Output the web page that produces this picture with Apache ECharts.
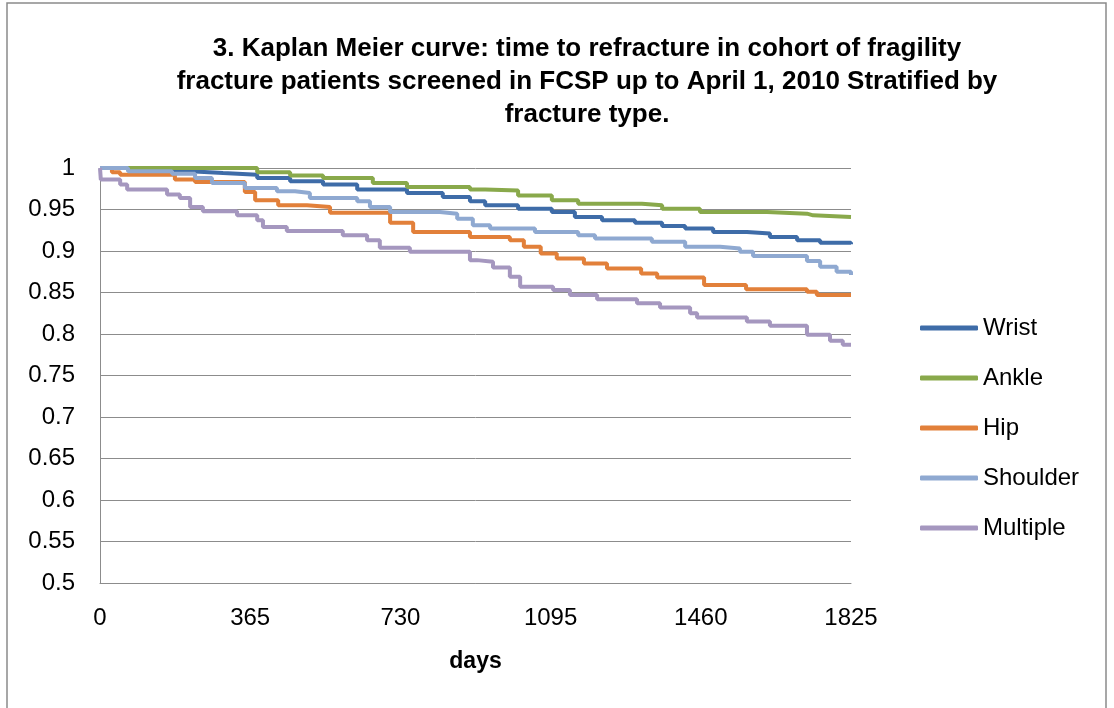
<!DOCTYPE html>
<html>
<head>
<meta charset="utf-8">
<script src="https://cdn.jsdelivr.net/npm/echarts@6/dist/echarts.min.js"></script>
<style>
  html, body { margin: 0; padding: 0; background: #fff; }
  #container { width: 1114px; height: 708px; }
</style>
</head>
<body>
<div id="container"></div>
<script>
// Kaplan Meier curves, [day, survival]
var seriesNames = ['Wrist', 'Ankle', 'Hip', 'Shoulder', 'Multiple'];
var wrist = [[0,1],[177,0.996],[219,0.994],[299,0.992],[382,0.988],[462,0.984],[542,0.98],[625,0.974],[746,0.97],[833,0.965],[899,0.96],[936,0.955],[1016,0.951],[1098,0.947],[1154,0.941],[1220,0.937],[1300,0.934],[1366,0.93],[1422,0.927],[1490,0.923],[1572,0.921],[1628,0.917],[1694,0.913],[1750,0.91],[1825,0.908]];
var ankle = [[0,1],[340,1],[382,0.995],[462,0.991],[542,0.988],[663,0.982],[746,0.977],[899,0.974],[936,0.973],[1016,0.967],[1098,0.961],[1162,0.957],[1317,0.955],[1366,0.951],[1458,0.947],[1621,0.945],[1718,0.943],[1733,0.941],[1825,0.941]];
var hip = [[0,1],[29,0.995],[49,0.992],[182,0.986],[231,0.983],[352,0.971],[377,0.961],[433,0.955],[503,0.953],[559,0.946],[705,0.934],[761,0.923],[899,0.917],[996,0.913],[1030,0.905],[1071,0.897],[1110,0.891],[1176,0.885],[1232,0.879],[1315,0.873],[1354,0.868],[1468,0.859],[1570,0.854],[1718,0.851],[1742,0.847],[1825,0.847]];
var shoulder = [[0,1],[68,0.996],[175,0.993],[231,0.988],[272,0.982],[352,0.976],[430,0.972],[474,0.97],[510,0.964],[625,0.96],[656,0.953],[705,0.947],[826,0.945],[868,0.939],[906,0.931],[948,0.927],[1057,0.923],[1162,0.919],[1203,0.915],[1341,0.911],[1422,0.905],[1507,0.903],[1555,0.899],[1587,0.894],[1718,0.888],[1750,0.881],[1790,0.875],[1825,0.871]];
var multiple = [[0,1],[2,0.986],[49,0.98],[66,0.974],[163,0.968],[194,0.964],[219,0.953],[250,0.948],[333,0.943],[382,0.937],[396,0.929],[454,0.924],[590,0.919],[649,0.913],[680,0.904],[753,0.899],[899,0.889],[916,0.887],[955,0.88],[996,0.869],[1021,0.857],[1101,0.853],[1142,0.847],[1208,0.842],[1305,0.837],[1361,0.832],[1434,0.825],[1451,0.82],[1572,0.815],[1628,0.81],[1718,0.799],[1774,0.792],[1805,0.787],[1825,0.787]];
var xTicks = [0, 365, 730, 1095, 1460, 1825];

var colors = ['#3e6ca8', '#89a94b', '#e2803a', '#8fa9d1', '#a597bf'];
var allData = [wrist, ankle, hip, shoulder, multiple];

var myChart = echarts.init(document.getElementById('container'));

var series = [];
for (var i = 0; i < seriesNames.length; i++) {
  series.push({
    name: seriesNames[i],
    type: 'line',
    step: 'end',
    symbol: 'none',
    data: allData[i],
    lineStyle: { width: 4, color: colors[i] },
    itemStyle: { color: colors[i] }
  });
}

var option = {
  animation: false,
  color: colors,
  title: {
    text: '3. Kaplan Meier curve: time to refracture in cohort of fragility\nfracture patients screened in FCSP up to April 1, 2010 Stratified by\nfracture type.',
    left: 582,
    top: 27,
    textAlign: 'center',
    textStyle: {
      fontFamily: 'Liberation Sans',
      fontWeight: 'bold',
      fontSize: 26,
      lineHeight: 33,
      color: '#000'
    }
  },
  legend: {
    orient: 'vertical',
    left: 915,
    top: 311,
    icon: 'roundRect',
    itemWidth: 58,
    itemHeight: 5,
    itemGap: 26,
    data: seriesNames,
    textStyle: { fontFamily: 'Liberation Sans', fontSize: 24, lineHeight: 24, color: '#000' }
  },
  grid: { left: 100, right: 263, top: 168, bottom: 125 },
  xAxis: {
    type: 'value',
    min: 0,
    max: 1825,
    interval: 365,
    name: 'days',
    nameLocation: 'middle',
    nameGap: 67,
    nameTextStyle: { fontFamily: 'Liberation Sans', fontWeight: 'bold', fontSize: 23, color: '#000' },
    axisLine: { show: true, lineStyle: { color: '#8c8c8c', width: 1 } },
    axisTick: { show: false },
    splitLine: { show: false },
    axisLabel: {
      fontFamily: 'Liberation Sans', fontSize: 24, color: '#000', margin: 23,
      formatter: function (v) { return xTicks.indexOf(v) >= 0 ? String(v) : ''; }
    }
  },
  yAxis: {
    type: 'value',
    min: 0.5,
    max: 1,
    interval: 0.05,
    axisLine: { show: true, lineStyle: { color: '#8c8c8c', width: 1 } },
    axisTick: { show: false },
    splitLine: { show: true, lineStyle: { color: '#8c8c8c', width: 1 } },
    axisLabel: {
      fontFamily: 'Liberation Sans', fontSize: 24, color: '#000', margin: 25,
      formatter: function (v) { return String(parseFloat(v.toFixed(2))); }
    }
  },
  graphic: [{
    type: 'rect',
    shape: { x: 7, y: 3, width: 1099, height: 730 },
    style: { fill: 'none', stroke: '#8a8a8a', lineWidth: 1.5 },
    silent: true
  }],
  series: series
};

myChart.setOption(option);
</script>
</body>
</html>
